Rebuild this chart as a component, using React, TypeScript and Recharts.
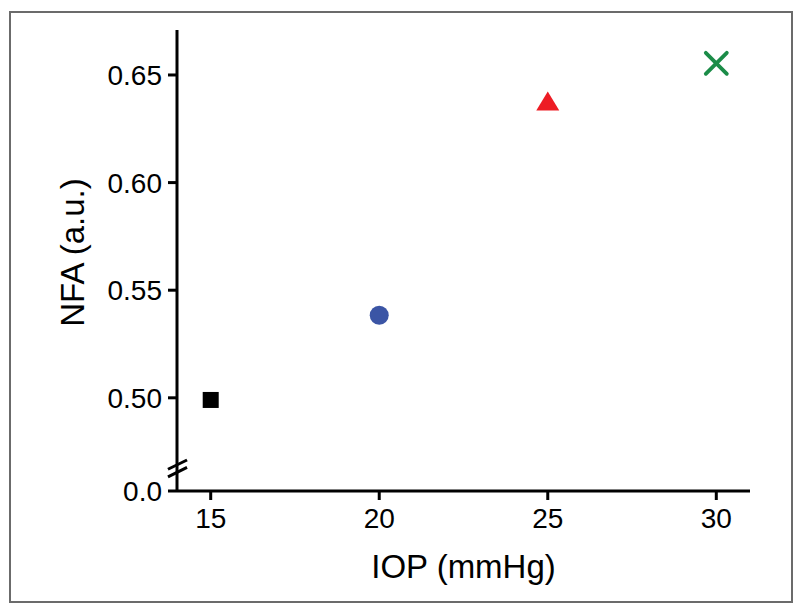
import React from 'react';
import { ScatterChart, Scatter, XAxis, YAxis, ReferenceLine, Label } from 'recharts';

// Data
const iop = [15, 20, 25, 30];
const nfa = [0.499, 0.5384, 0.6379, 0.6554];
const markerKinds = ['square', 'circle', 'triangle', 'cross'];
const markerColors = ['#000000', '#3b55a5', '#ed1c24', '#1b8c48'];
const xTicks = [15, 20, 25, 30];
const yTicks = [0.5, 0.55, 0.6, 0.65];
const yBreakFloor = 0.4567; // position where the "0.0" label sits below the axis break
const yTop = 0.6709;

const FONT = '"Liberation Sans", Arial, Helvetica, sans-serif';

const makeShape = (kind: string, color: string) => (props: any) => {
  const { cx, cy } = props;
  if (kind === 'square') {
    return <rect x={cx - 8} y={cy - 8} width={16} height={16} fill={color} />;
  }
  if (kind === 'circle') {
    return <circle cx={cx} cy={cy} r={9.5} fill={color} />;
  }
  if (kind === 'triangle') {
    return (
      <polygon
        points={`${cx},${cy - 9.5} ${cx + 11.5},${cy + 9.5} ${cx - 11.5},${cy + 9.5}`}
        fill={color}
      />
    );
  }
  return (
    <g stroke={color} strokeWidth={3.8} strokeLinecap="round">
      <line x1={cx - 10.5} y1={cy - 10.5} x2={cx + 10.5} y2={cy + 10.5} />
      <line x1={cx - 10.5} y1={cy + 10.5} x2={cx + 10.5} y2={cy - 10.5} />
    </g>
  );
};

export default function App() {
  const yAxisTicks = [yBreakFloor, ...yTicks];
  return (
    <div style={{ position: 'absolute', left: 0, top: 0, width: 800, height: 611, background: '#fff' }}>
      <div
        style={{
          position: 'absolute',
          left: 9,
          top: 11,
          width: 780,
          height: 588,
          border: '2px solid #6b6b6b',
        }}
      />
      <div style={{ position: 'absolute', left: 0, top: 0 }}>
        <ScatterChart width={800} height={611} margin={{ top: 30, right: 50, bottom: 60, left: 97 }}>
          <XAxis
            type="number"
            dataKey="x"
            domain={[14, 31]}
            ticks={xTicks}
            allowDataOverflow
            height={60}
            tickSize={9}
            tickMargin={8}
            axisLine={{ stroke: '#000', strokeWidth: 3 }}
            tickLine={{ stroke: '#000', strokeWidth: 3 }}
            tick={{ fill: '#000', fontSize: 28, fontFamily: FONT }}
          >
            <Label
              content={(p: any) => {
                const vb = p.viewBox || { x: 177, y: 491, width: 573 };
                return (
                  <text
                    x={vb.x + vb.width / 2}
                    y={578}
                    textAnchor="middle"
                    fontSize={33}
                    fontFamily={FONT}
                    fill="#000"
                  >
                    IOP (mmHg)
                  </text>
                );
              }}
            />
          </XAxis>
          <YAxis
            type="number"
            dataKey="y"
            domain={[yBreakFloor, yTop]}
            ticks={yAxisTicks}
            allowDataOverflow
            width={80}
            tickSize={9}
            tickMargin={6}
            tickFormatter={(v: number) => (v < 0.48 ? '0.0' : v.toFixed(2))}
            axisLine={{ stroke: '#000', strokeWidth: 3 }}
            tickLine={{ stroke: '#000', strokeWidth: 3 }}
            tick={{ fill: '#000', fontSize: 28, fontFamily: FONT }}
          >
            <Label
              content={(p: any) => {
                const vb = p.viewBox || { x: 97, y: 30, height: 461 };
                const x = 84;
                const y = vb.y + vb.height / 2 - 8;
                return (
                  <text
                    x={x}
                    y={y}
                    transform={`rotate(-90, ${x}, ${y})`}
                    textAnchor="middle"
                    fontSize={33}
                    fontFamily={FONT}
                    fill="#000"
                  >
                    NFA (a.u.)
                  </text>
                );
              }}
            />
          </YAxis>
          <ReferenceLine
            segment={[{ x: 13.732, y: 0.4668 }, { x: 14.298, y: 0.4711 }]}
            stroke="#000"
            strokeWidth={3}
            ifOverflow="visible"
          />
          <ReferenceLine
            segment={[{ x: 13.732, y: 0.4633 }, { x: 14.298, y: 0.4677 }]}
            stroke="#000"
            strokeWidth={3}
            ifOverflow="visible"
          />
          {iop.map((x, i) => (
            <Scatter
              key={i}
              data={[{ x, y: nfa[i] }]}
              isAnimationActive={false}
              shape={makeShape(markerKinds[i], markerColors[i])}
            />
          ))}
        </ScatterChart>
      </div>
    </div>
  );
}
